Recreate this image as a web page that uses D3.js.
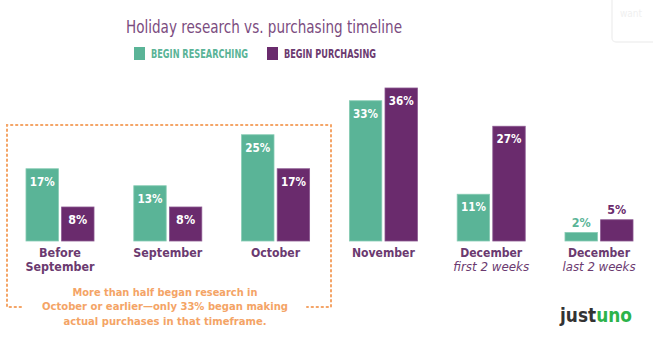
<!DOCTYPE html>
<html>
<head>
<meta charset="utf-8">
<script src="https://cdn.jsdelivr.net/npm/d3@7"></script>
<style>
  html, body { margin: 0; padding: 0; background: #ffffff; }
  svg { display: block; }
  text { font-family: "DejaVu Sans Condensed", "DejaVu Sans", sans-serif; }
</style>
</head>
<body>
<svg id="chart" width="653" height="342"></svg>
<script>
// Timeline periods and the share of shoppers starting each activity (%)
const periods = ["Before September", "September", "October", "November", "December first", "December last"];
const periodLines = [["Before", "September"], ["September"], ["October"], ["November"], ["December", "first 2 weeks"], ["December", "last 2 weeks"]];
const seriesNames = ["BEGIN RESEARCHING", "BEGIN PURCHASING"];
const researching = [17, 13, 25, 33, 11, 2];
const purchasing = [8, 8, 17, 36, 27, 5];

const colors = { research: "#5ab497", purchase: "#6a2b6d" };
const labelPurple = "#6b3a70";
const orange = "#f4a466";

const svg = d3.select("#chart");

// Squeeze a text run to a given width so the wide fallback face reads like a condensed one
function fit(sel, w) {
  return sel.attr("textLength", w).attr("lengthAdjust", "spacingAndGlyphs");
}

// Title
fit(svg.append("text")
  .attr("x", 264).attr("y", 33)
  .attr("text-anchor", "middle")
  .attr("font-size", 18)
  .attr("fill", "#7b4c80")
  .text("Holiday research vs. purchasing timeline"), 276);

// Legend
const legendItems = [
  { name: seriesNames[0], color: colors.research, x: 134, w: 97, textColor: "#5ab497" },
  { name: seriesNames[1], color: colors.purchase, x: 267, w: 92, textColor: "#6b3a70" }
];
const legend = svg.append("g");
legendItems.forEach(d => {
  legend.append("rect").attr("x", d.x).attr("y", 47).attr("width", 11).attr("height", 13).attr("fill", d.color);
  fit(legend.append("text").attr("x", d.x + 17).attr("y", 58)
    .attr("font-size", 12).attr("font-weight", "bold").attr("fill", d.textColor).text(d.name), d.w);
});

// Scales
const x0 = d3.scaleBand().domain(periods).range([6.1, 652.9]).paddingInner(0.369).paddingOuter(0.1845);
const x1 = d3.scaleBand().domain(["research", "purchase"]).range([0, x0.bandwidth()]).paddingInner(0.09);
const y = d3.scaleLinear().domain([0, 36]).range([241, 88]);

const data = periods.map((p, i) => ({
  period: p,
  lines: periodLines[i],
  values: [
    { key: "research", value: researching[i] },
    { key: "purchase", value: purchasing[i] }
  ]
}));

// Dotted call-out frame around the early periods
const frame = svg.append("g").attr("fill", "none").attr("stroke", orange)
  .attr("stroke-width", 2).attr("stroke-dasharray", "1.4 3.6").attr("stroke-linecap", "round");
frame.append("path").attr("d", "M21,307 H7 V125 H331 V307 H307");

// Bars
const groups = svg.append("g").selectAll("g").data(data).join("g")
  .attr("transform", d => `translate(${x0(d.period)},0)`);

groups.selectAll("rect").data(d => d.values).join("rect")
  .attr("x", d => x1(d.key))
  .attr("y", d => y(d.value))
  .attr("width", x1.bandwidth())
  .attr("height", d => y(0) - y(d.value))
  .attr("fill", d => colors[d.key])
  .attr("stroke", d => d.key === "research" ? "#86cbb3" : "#8a5790")
  .attr("stroke-width", 0.8);

// Value labels: inside the bar when there is room, above it otherwise
const inside = d => (y(0) - y(d.value)) > 26;
groups.selectAll("text.value").data(d => d.values).join("text")
  .attr("class", "value")
  .attr("x", d => x1(d.key) + x1.bandwidth() / 2)
  .attr("y", d => inside(d) ? y(d.value) + 17 : y(d.value) - 6)
  .attr("text-anchor", "middle")
  .attr("font-size", 12.5).attr("font-weight", "bold")
  .attr("fill", d => inside(d) ? "#ffffff" : colors[d.key])
  .attr("textLength", d => d.value >= 10 ? 25 : 19)
  .attr("lengthAdjust", "spacingAndGlyphs")
  .text(d => d.value + "%");

// Period labels
const lineWidths = { "Before": 42, "September": 69, "October": 49, "November": 63, "December": 62, "first 2 weeks": 76, "last 2 weeks": 73 };
groups.each(function(d) {
  const g = d3.select(this);
  d.lines.forEach((line, j) => {
    const italic = j === 1 && d.lines[0] === "December";
    fit(g.append("text")
      .attr("x", x0.bandwidth() / 2)
      .attr("y", 257 + j * 14)
      .attr("text-anchor", "middle")
      .attr("font-size", 12)
      .attr("font-weight", italic ? "normal" : "bold")
      .attr("font-style", italic ? "italic" : "normal")
      .attr("fill", labelPurple)
      .text(line), lineWidths[line]);
  });
});

// Call-out note
const noteG = svg.append("g").attr("fill", orange).attr("font-size", 11).attr("font-weight", 600);
fit(noteG.append("text").attr("x", 165).attr("y", 295.5).attr("text-anchor", "middle")
  .text("More than half began research in"), 185);
const l2 = fit(noteG.append("text").attr("x", 165).attr("y", 310).attr("text-anchor", "middle"), 246);
l2.append("tspan").text("October or earlier\u2014only ");
l2.append("tspan").attr("font-weight", "bold").text("33%");
l2.append("tspan").text(" began making");
fit(noteG.append("text").attr("x", 165).attr("y", 324.5).attr("text-anchor", "middle")
  .text("actual purchases in that timeframe."), 203);

// Brand mark
const logo = fit(svg.append("text").attr("x", 560).attr("y", 322)
  .attr("font-family", "'DejaVu Sans', sans-serif")
  .attr("font-size", 20).attr("font-weight", "bold"), 72);
logo.append("tspan").attr("fill", "#333333").text("just");
logo.append("tspan").attr("fill", "#2cb34a").text("uno");

// Faint card in the top-right corner
svg.append("rect").attr("x", 612).attr("y", -8).attr("width", 60).attr("height", 50).attr("rx", 4)
  .attr("fill", "#ffffff").attr("stroke", "#f1f1f1").attr("stroke-width", 1.5);
svg.append("text").attr("x", 620).attr("y", 17).attr("font-size", 10).attr("fill", "#f0f0f0").text("want");
</script>
</body>
</html>
